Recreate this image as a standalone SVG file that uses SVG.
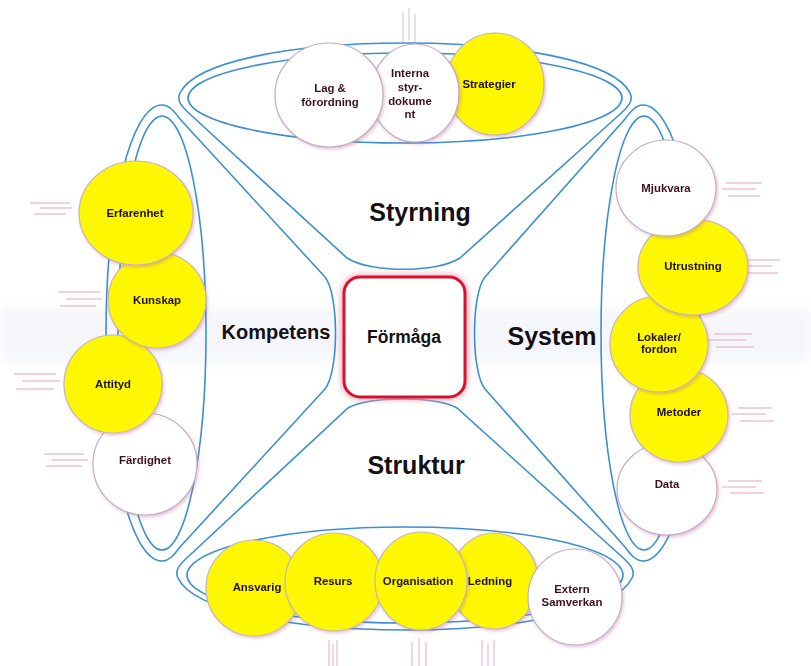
<svg xmlns="http://www.w3.org/2000/svg" width="811" height="666" viewBox="0 0 811 666">
<defs>
<style>
.ln{fill:none;stroke:#3b8fd2;stroke-width:1.6}
.yc{fill:#fdf800;stroke:#c5b3c3;stroke-width:1.2}
.wc{fill:#ffffff;stroke:#bfaec4;stroke-width:1.2}
.t{font-family:"Liberation Sans",Arial,sans-serif;font-weight:bold;font-size:11.4px;fill:#1c0e12;text-anchor:middle}
.tw{fill:#3e1020}
.big{font-family:"Liberation Sans",Arial,sans-serif;font-weight:bold;fill:#141014;text-anchor:middle}
.sl{stroke:#ecc4d3;stroke-width:1.4;fill:none}
.sv{stroke:#dcd3e2;stroke-width:1.4;fill:none}
</style>
<filter id="sh" x="-20%" y="-20%" width="140%" height="140%">
<feDropShadow dx="1.5" dy="2" stdDeviation="1.5" flood-color="#c0608a" flood-opacity="0.35"/>
</filter>
<filter id="glow" x="-20%" y="-20%" width="140%" height="140%">
<feGaussianBlur stdDeviation="2.5"/>
</filter>
<filter id="band" x="-5%" y="-50%" width="110%" height="200%">
<feGaussianBlur stdDeviation="6"/>
</filter>
</defs>
<rect width="811" height="666" fill="#ffffff"/>
<rect x="0" y="308" width="811" height="54" fill="#eceef4" opacity="0.5" filter="url(#band)"/>

<g id="decor">
<path class="sl" d="M30,203H70M40,208H72M34,214H66"/>
<path class="sl" d="M58,292H100M66,299H102M60,306H96"/>
<path class="sl" d="M14,374H56M22,381H60M16,389H54"/>
<path class="sl" d="M44,454H84M52,460H88M46,466H82"/>
<path class="sl" d="M726,183H762M722,189H756M728,196H760"/>
<path class="sl" d="M742,260H780M738,266H772M744,273H778"/>
<path class="sl" d="M714,334H752M708,340H746M716,347H754"/>
<path class="sl" d="M738,408H772M732,414H766M740,421H774"/>
<path class="sl" d="M728,481H762M722,487H756M730,493H764"/>
<path class="sv" d="M403,12V42M409,8V40M415,14V42"/>
<path class="sl" d="M329,640V666M333,644V666M337,640V666"/>
<path class="sl" d="M412,642V666M419,638V666M426,642V666"/>
<path class="sl" d="M482,640V666M488,644V666M494,640V666"/>
</g>

<g id="connectors">
<path class="ln" d="M347,258 C370,273 437,273 460,258 L618,116 C628,107 634,101 630,93 C615,62 520,43 405,43 C290,43 195,62 180,93 C176,101 182,107 192,116 Z"/>
<ellipse class="ln" cx="405" cy="98" rx="217" ry="45"/>
<path class="ln" d="M325,277 L180,119 C174,111 169,105 162,105 C131,105 106,207 106,333 C106,459 131,561 162,561 C169,561 174,555 180,547 L325,389 C339,372 339,294 325,277 Z"/>
<ellipse class="ln" cx="162" cy="333" rx="44" ry="217"/>
<path class="ln" d="M485,277 L625,119 C631,111 636,105 643,105 C674,105 700,207 700,333 C700,459 674,561 643,561 C636,561 631,555 625,547 L485,389 C471,372 471,294 485,277 Z"/>
<ellipse class="ln" cx="644" cy="333" rx="43" ry="217"/>
<path class="ln" d="M348,408 C370,396 435,396 457,408 L620,555 C630,564 636,570 632,578 C617,610 520,630 405,630 C290,630 193,610 178,578 C174,570 180,564 190,555 Z"/>
<ellipse class="ln" cx="405" cy="575" rx="218" ry="48"/>
</g>

<g id="formaga">
<rect x="344" y="277" width="121" height="120" rx="16" fill="none" stroke="#f29aae" stroke-width="7" opacity="0.7" filter="url(#glow)"/>
<rect x="344" y="277" width="121" height="120" rx="16" fill="#ffffff" stroke="#d6122c" stroke-width="3"/>
<text class="big" x="404" y="343" font-size="17.5">Förmåga</text>
</g>

<g id="labels">
<text class="big" x="420" y="221" font-size="25">Styrning</text>
<text class="big" x="416" y="474" font-size="25">Struktur</text>
<text class="big" x="276" y="339" font-size="20">Kompetens</text>
<text class="big" x="552" y="345" font-size="25">System</text>
</g>

<g id="strategier" filter="url(#sh)"><ellipse class="yc" cx="495" cy="84" rx="49" ry="51"/><text class="t" x="489" y="88">Strategier</text></g>
<g id="interna" filter="url(#sh)"><ellipse class="wc" cx="415" cy="93" rx="44" ry="49"/><text class="t tw" x="410" y="77">Interna</text><text class="t tw" x="410" y="91">styr-</text><text class="t tw" x="410" y="105">dokume</text><text class="t tw" x="410" y="118">nt</text></g>
<g id="lag" filter="url(#sh)"><ellipse class="wc" cx="329" cy="95" rx="54" ry="52"/><text class="t tw" x="330" y="92">Lag &amp;</text><text class="t tw" x="330" y="106">förordning</text></g>

<g id="fardighet" filter="url(#sh)"><ellipse class="wc" cx="145" cy="464" rx="52" ry="51"/><text class="t tw" x="145" y="464">Färdighet</text></g>
<g id="attityd" filter="url(#sh)"><ellipse class="yc" cx="113" cy="384" rx="49" ry="49"/><text class="t" x="113" y="388">Attityd</text></g>
<g id="kunskap" filter="url(#sh)"><ellipse class="yc" cx="157" cy="300" rx="49" ry="48"/><text class="t" x="157" y="304">Kunskap</text></g>
<g id="erfarenhet" filter="url(#sh)"><ellipse class="yc" cx="136" cy="213" rx="57" ry="52"/><text class="t" x="135" y="217">Erfarenhet</text></g>

<g id="data" filter="url(#sh)"><ellipse class="wc" cx="667" cy="489" rx="50" ry="46"/><text class="t tw" x="667" y="488">Data</text></g>
<g id="metoder" filter="url(#sh)"><ellipse class="yc" cx="679" cy="415" rx="49" ry="47"/><text class="t" x="679" y="416">Metoder</text></g>
<g id="lokaler" filter="url(#sh)"><ellipse class="yc" cx="659" cy="344" rx="49" ry="48"/><text class="t" x="659" y="341">Lokaler/</text><text class="t" x="659" y="353">fordon</text></g>
<g id="utrustning" filter="url(#sh)"><ellipse class="yc" cx="693" cy="267" rx="55" ry="48"/><text class="t" x="693" y="270">Utrustning</text></g>
<g id="mjukvara" filter="url(#sh)"><ellipse class="wc" cx="666" cy="188" rx="50" ry="48"/><text class="t tw" x="666" y="192">Mjukvara</text></g>

<g id="ansvarig" filter="url(#sh)"><ellipse class="yc" cx="254" cy="588" rx="48" ry="48"/><text class="t" x="257" y="591">Ansvarig</text></g>
<g id="resurs" filter="url(#sh)"><ellipse class="yc" cx="334" cy="582" rx="49" ry="49"/><text class="t" x="333" y="585">Resurs</text></g>
<g id="ledning" filter="url(#sh)"><ellipse class="yc" cx="494" cy="581" rx="44" ry="48"/><text class="t" x="490" y="585">Ledning</text></g>
<g id="organisation" filter="url(#sh)"><ellipse class="yc" cx="421" cy="581" rx="46" ry="49"/><text class="t" x="418" y="585">Organisation</text></g>
<g id="extern" filter="url(#sh)"><ellipse class="wc" cx="575" cy="597" rx="47" ry="48"/><text class="t tw" x="572" y="593">Extern</text><text class="t tw" x="572" y="606">Samverkan</text></g>
</svg>
